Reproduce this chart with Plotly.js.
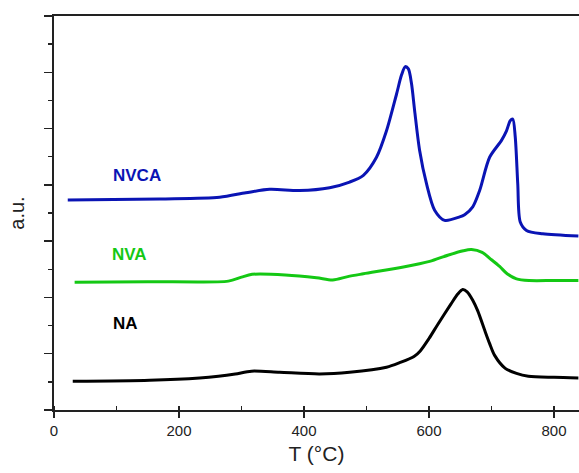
<!DOCTYPE html>
<html>
<head>
<meta charset="utf-8">
<script src="https://cdn.plot.ly/plotly-3.0.1.min.js"></script>
<style>html,body{margin:0;padding:0;background:#fff;}#chart{width:579px;height:473px;}</style>
</head>
<body>
<div id="chart"></div>
<script>
// NA (black)
const naT = [30, 153, 233, 263, 290, 316, 361, 425, 473, 532, 553, 576, 586, 600, 614, 635, 646, 654, 661, 670, 678, 689, 697, 705, 722, 740, 759, 800, 839];
const naY = [0.51, 0.53, 0.57, 0.60, 0.64, 0.69, 0.67, 0.64, 0.67, 0.76, 0.84, 0.95, 1.05, 1.27, 1.52, 1.88, 2.06, 2.14, 2.10, 1.95, 1.76, 1.42, 1.18, 0.97, 0.74, 0.65, 0.60, 0.58, 0.57];
// NVA (green)
const nvaT = [33, 150, 279, 300, 317, 370, 420, 446, 470, 495, 559, 601, 630, 655, 668, 685, 700, 713, 725, 740, 760, 800, 839];
const nvaY = [2.27, 2.28, 2.29, 2.36, 2.41, 2.40, 2.35, 2.31, 2.37, 2.42, 2.54, 2.64, 2.75, 2.83, 2.85, 2.80, 2.67, 2.55, 2.42, 2.33, 2.30, 2.30, 2.30];
// NVCA (blue)
const nvcaT = [22, 169, 265, 307, 345, 393, 441, 473, 495, 516, 532, 548, 556, 562, 567, 572, 577, 585, 596, 609, 625, 649, 657, 670, 681, 697, 716, 724, 730, 734, 738, 742, 746, 756, 782, 839];
const nvcaY = [3.73, 3.75, 3.78, 3.86, 3.92, 3.90, 3.95, 4.05, 4.17, 4.49, 4.96, 5.61, 5.95, 6.10, 6.06, 5.80, 5.32, 4.61, 4.02, 3.55, 3.37, 3.43, 3.47, 3.61, 3.90, 4.49, 4.79, 4.96, 5.14, 5.17, 4.85, 4.02, 3.34, 3.19, 3.13, 3.09];

const labels = ['NVCA', 'NVA', 'NA'];
const labelT = [132, 121, 114];
const labelY = [4.17, 2.77, 1.54];
const colors = ['#0a14b4', '#14c814', '#000000'];

const mk = (x, y, c) => ({x: x, y: y, type: 'scatter', mode: 'lines', line: {color: c, width: 3, shape: 'spline', smoothing: 0.8}, hoverinfo: 'none'});
const data = [mk(naT, naY, colors[2]), mk(nvaT, nvaY, colors[1]), mk(nvcaT, nvcaY, colors[0])];

const annotations = labels.map((t, i) => ({
  x: labelT[i], y: labelY[i], xref: 'x', yref: 'y', text: '<b>' + t + '</b>', showarrow: false,
  font: {family: 'Liberation Sans, Arial, sans-serif', size: 17, color: colors[i]}
}));

const layout = {
  width: 579, height: 473,
  margin: {l: 54, r: 0, t: 16, b: 63},
  paper_bgcolor: '#fff', plot_bgcolor: '#fff',
  showlegend: false,
  font: {family: 'Liberation Sans, Arial, sans-serif', color: '#222'},
  xaxis: {
    range: [0, 840], showgrid: false, zeroline: false,
    showline: true, linecolor: '#222', linewidth: 2, mirror: true,
    tickmode: 'linear', tick0: 0, dtick: 200, ticks: 'outside', ticklen: 6, tickwidth: 1.5, tickcolor: '#222',
    minor: {dtick: 100, ticks: 'inside', ticklen: 4, tickwidth: 1.5, tickcolor: '#222', showgrid: false},
    tickfont: {size: 15, color: '#222'},
    title: {text: 'T (°C)', font: {size: 21, color: '#222'}, standoff: 8}
  },
  yaxis: {
    range: [0, 7], showgrid: false, zeroline: false,
    showline: true, linecolor: '#222', linewidth: 2,
    tickmode: 'linear', tick0: 0, dtick: 1, ticks: 'outside', ticklen: 8, tickwidth: 1.5, tickcolor: '#222',
    minor: {dtick: 0.5, ticks: 'outside', ticklen: 4, tickwidth: 1.5, tickcolor: '#222', showgrid: false},
    showticklabels: false,
    title: {text: 'a.u.', font: {size: 20, color: '#222'}, standoff: 14}
  },
  annotations: annotations
};

Plotly.newPlot('chart', data, layout, {staticPlot: true, displayModeBar: false});
</script>
</body>
</html>
